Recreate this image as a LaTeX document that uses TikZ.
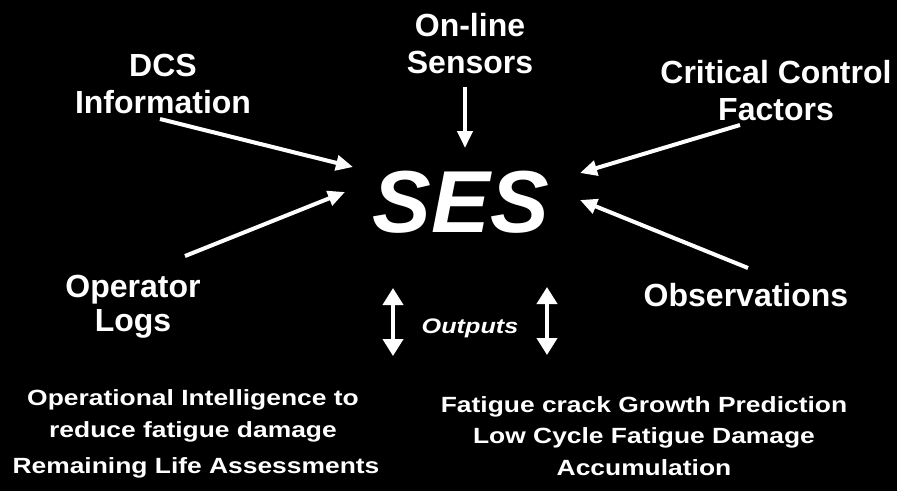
\documentclass[tikz,border=0pt]{standalone}
\usepackage{fontspec}
\setmainfont{Liberation Sans}
\usetikzlibrary{arrows.meta}

\begin{document}
\begin{tikzpicture}[x=1pt,y=-1pt]
\tikzset{
  label/.style={text=white,font=\fontsize{32}{37}\selectfont\bfseries,align=center,inner sep=0pt,anchor=base},
  small/.style={text=white,font=\fontsize{22}{31.5}\selectfont\bfseries,align=center,inner sep=0pt,anchor=base,xscale=1.2},
  arr/.style={draw=white,line width=4pt,-{Triangle[length=17pt,width=15pt]}},
  dbl/.style={draw=white,line width=4pt,{Triangle[length=17pt,width=20pt]}-{Triangle[length=17pt,width=20pt]}}
}

\fill[black] (0,0) rectangle (897,491);
\useasboundingbox (0,0) rectangle (897,491);

% labels (anchored at the baseline of the last line)
\node[label] (dcs) at (163,113) {DCS\\Information};
\node[label] (sensors) at (470,73) {On-line\\Sensors};
\node[label] (ccf) at (776,120) {Critical Control\\Factors};
\node[label] (logs) at (133,331) {Operator\\[-3pt]Logs};
\node[label] (obs) at (746,306) {Observations};

\node[label,font=\fontsize{88}{88}\selectfont\bfseries\itshape] (ses) at (461,232) {SES};
\node[label,font=\fontsize{21}{21}\selectfont\bfseries\itshape,xscale=1.2] (outputs) at (470,333) {Outputs};

\node[small] (opint) at (193,437) {Operational Intelligence to\\reduce fatigue damage};
\node[small] (rla) at (196,473) {Remaining Life Assessments};
\node[small] (fcg) at (644,475) {Fatigue crack Growth Prediction\\Low Cycle Fatigue Damage\\Accumulation};

\coordinate (A) at (160,119);
\coordinate (A') at (353,167);
\coordinate (B) at (465,87);
\coordinate (B') at (465,148);
\coordinate (C) at (740,125);
\coordinate (C') at (580,173);
\coordinate (D) at (748,268);
\coordinate (D') at (580,200);
\coordinate (E) at (185,256);
\coordinate (E') at (345,192);
\coordinate (F) at (393,288);
\coordinate (F') at (393,356);
\coordinate (G) at (547,287);
\coordinate (G') at (547,355);

\draw[arr] (A) -- (A');
\draw[arr] (B) -- (B');
\draw[arr] (C) -- (C');
\draw[arr] (D) -- (D');
\draw[arr] (E) -- (E');
\draw[dbl] (F) -- (F');
\draw[dbl] (G) -- (G');
\end{tikzpicture}
\end{document}
